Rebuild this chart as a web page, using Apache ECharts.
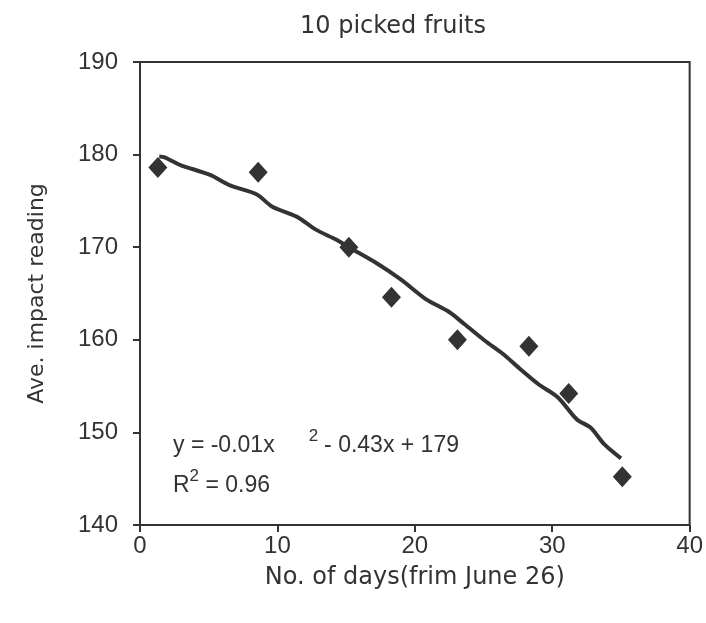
<!DOCTYPE html>
<html>
<head>
<meta charset="utf-8">
<script src="https://cdn.jsdelivr.net/npm/echarts@6/dist/echarts.min.js"></script>
<style>
    html, body { margin: 0; padding: 0; background: #fff; }
    #main { width: 706px; height: 623px; }
</style>
</head>
<body>
<div id="main"></div>
<script>
// measured points (days since June 26, average impact reading)
var days = [1.3, 8.6, 15.2, 18.3, 23.1, 28.3, 31.2, 35.1];
var readings = [178.6, 178.1, 170.0, 164.6, 160.0, 159.3, 154.2, 145.2];

// trend line as drawn in the picture
var trendX = [1.4, 1.8, 2.9, 5.1, 6.5, 8.5, 9.6, 11.4, 12.8, 14.3, 15.2, 17.2, 19.0, 20.8, 22.5, 23.6, 25.1, 26.4, 27.7, 29.0, 30.4, 31.8, 32.8, 33.8, 35.0];
var trendY = [179.8, 179.7, 178.9, 177.8, 176.7, 175.7, 174.4, 173.3, 171.9, 170.8, 170.0, 168.3, 166.5, 164.4, 163.0, 161.7, 159.9, 158.5, 156.8, 155.2, 153.8, 151.4, 150.5, 148.7, 147.2];

var xTicks = [0, 10, 20, 30, 40];
var yTicks = [140, 150, 160, 170, 180, 190];

var ink = '#333333';
var font = '"DejaVu Sans", sans-serif';
var numFont = '"Liberation Sans", Arial, sans-serif';

var chart = echarts.init(document.getElementById('main'));

var pts = days.map(function (d, i) { return [d, readings[i]]; });
var trend = trendX.map(function (d, i) { return [d, trendY[i]]; });

var option = {
    animation: false,
    backgroundColor: '#fff',
    title: {
        text: '10 picked fruits',
        left: 388,
        top: 10,
        textAlign: 'center',
        textStyle: { color: ink, fontFamily: font, fontWeight: 'normal', fontSize: 24 }
    },
    grid: {
        left: 140,
        right: 14,
        top: 62,
        bottom: 98,
        show: true,
        borderColor: ink,
        borderWidth: 2
    },
    xAxis: {
        type: 'value',
        min: xTicks[0],
        max: xTicks[xTicks.length - 1],
        interval: 10,
        name: 'No. of days(frim June 26)',
        nameLocation: 'middle',
        nameGap: 41,
        nameTextStyle: { color: ink, fontFamily: font, fontSize: 24 },
        axisLine: { lineStyle: { color: ink, width: 2 } },
        axisTick: { show: true, length: 7, lineStyle: { color: ink, width: 2 } },
        axisLabel: { color: ink, fontFamily: numFont, fontSize: 24, margin: 9 },
        splitLine: { show: false }
    },
    yAxis: {
        type: 'value',
        min: yTicks[0],
        max: yTicks[yTicks.length - 1],
        interval: 10,
        name: 'Ave. impact reading',
        nameLocation: 'middle',
        nameGap: 92,
        nameTextStyle: { color: ink, fontFamily: font, fontSize: 22 },
        axisLine: { lineStyle: { color: ink, width: 2 } },
        axisTick: { show: true, length: 7, lineStyle: { color: ink, width: 2 } },
        axisLabel: { color: ink, fontFamily: numFont, fontSize: 24, margin: 22 },
        splitLine: { show: false }
    },
    graphic: [
        {
            type: 'text',
            left: 173,
            top: 428,
            style: {
                text: '{a|y = -0.01x}{s|2}{a|- 0.43x + 179}',
                rich: {
                    a: { fontFamily: numFont, fontSize: 23, fill: ink, padding: [10, 0, 0, 0] },
                    s: { fontFamily: numFont, fontSize: 17, fill: ink, padding: [0, 6, 8, 34] }
                }
            }
        },
        {
            type: 'text',
            left: 173,
            top: 468,
            style: {
                text: '{a|R}{s|2}{a| = 0.96}',
                rich: {
                    a: { fontFamily: numFont, fontSize: 23, fill: ink, padding: [10, 0, 0, 0] },
                    s: { fontFamily: numFont, fontSize: 17, fill: ink, padding: [0, 0, 8, 0] }
                }
            }
        }
    ],
    series: [
        {
            name: 'trend',
            type: 'line',
            data: trend,
            showSymbol: false,
            smooth: 0.3,
            lineStyle: { color: ink, width: 4 },
            z: 2
        },
        {
            name: 'readings',
            type: 'scatter',
            data: pts,
            symbol: 'diamond',
            symbolSize: [19, 21],
            itemStyle: { color: ink, opacity: 1 },
            z: 3
        }
    ]
};

chart.setOption(option);
window.addEventListener('resize', function () {
    chart.resize();
});
</script>
</body>
</html>
